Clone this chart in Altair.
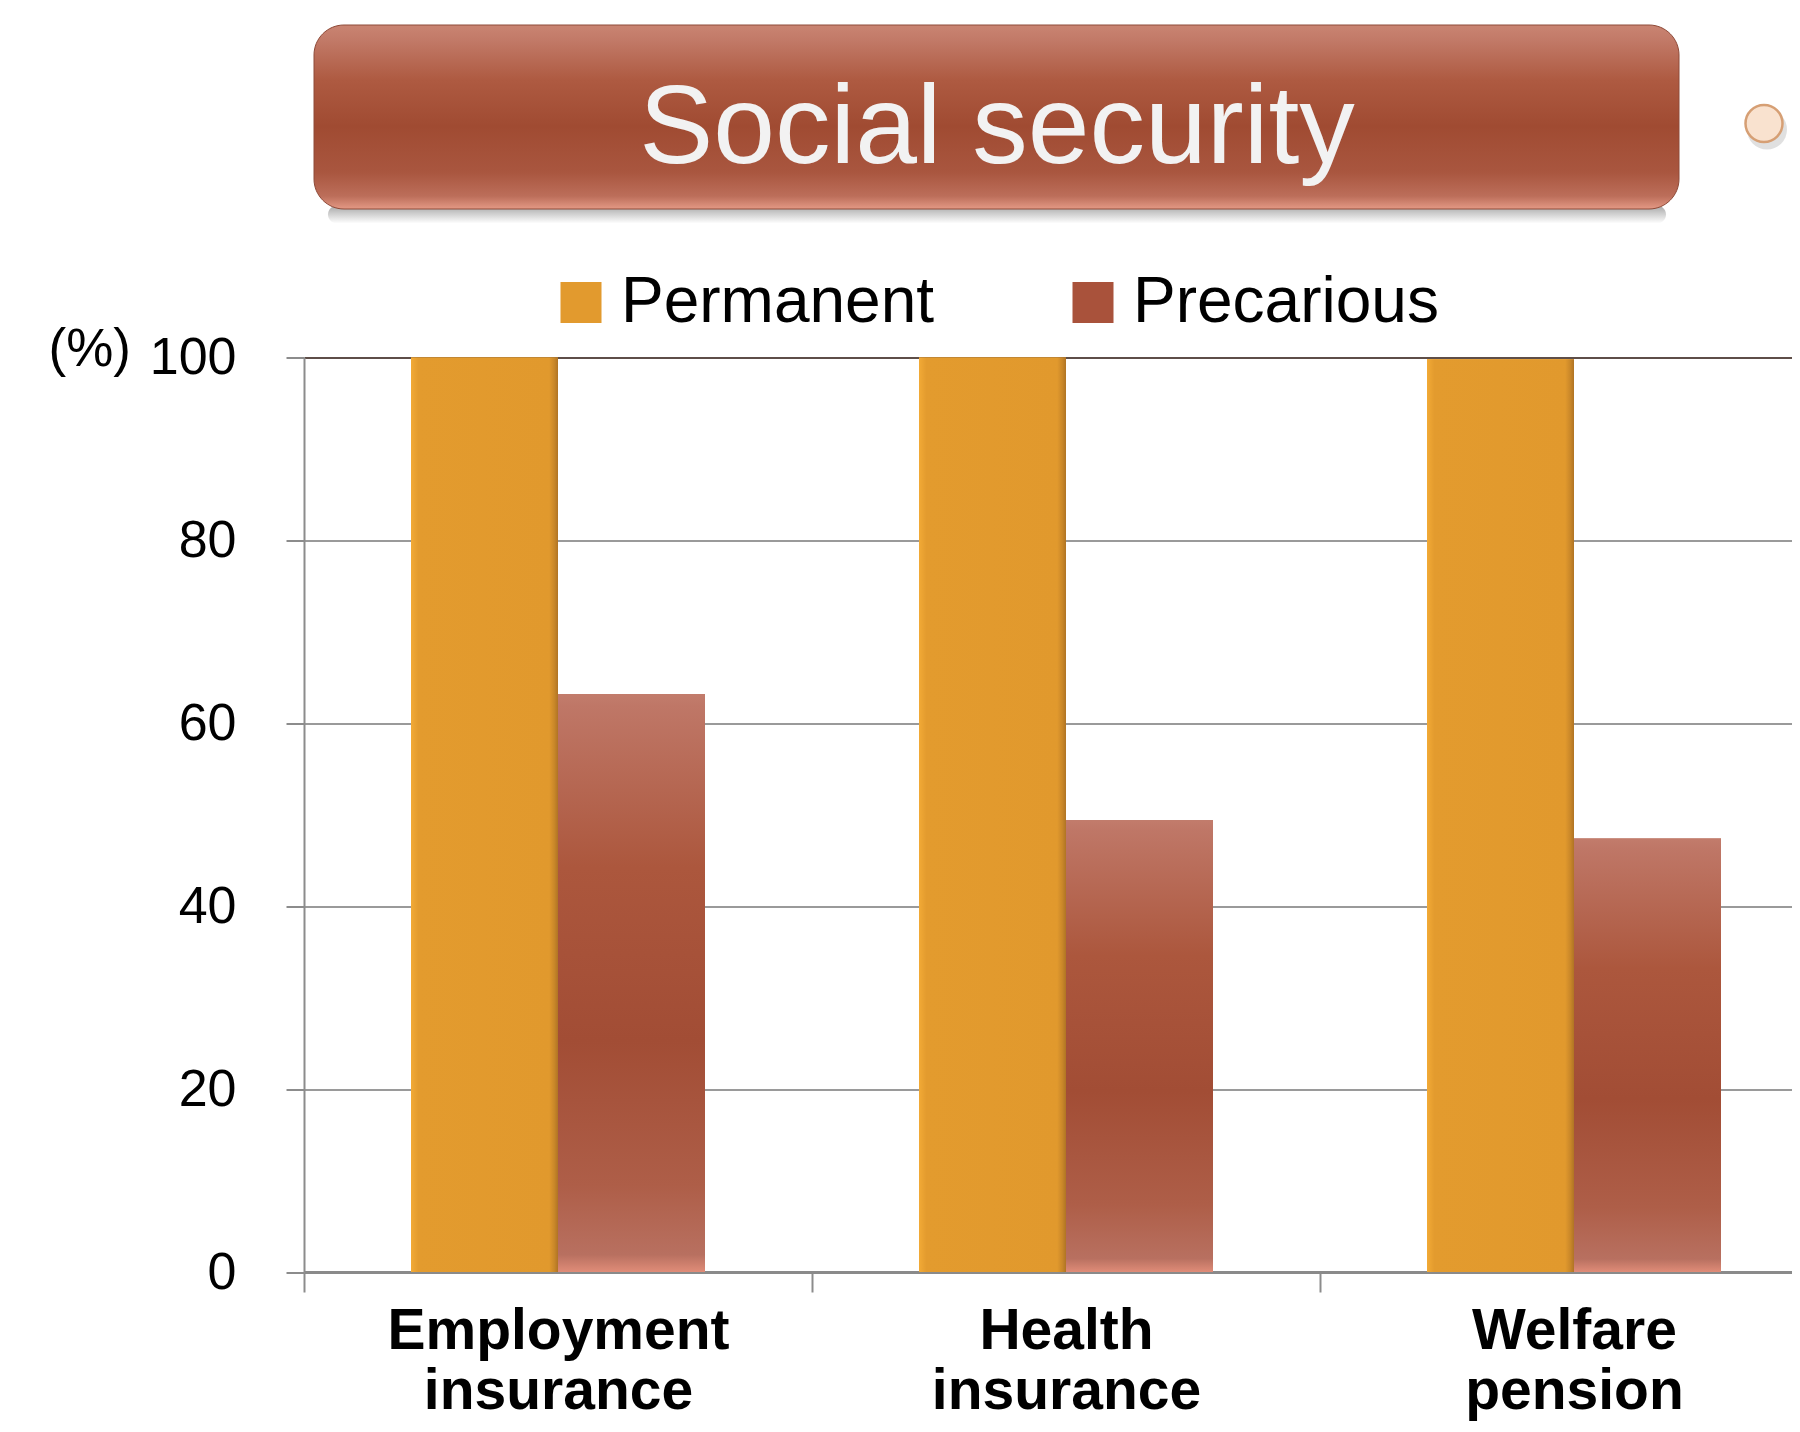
import altair as alt
import pandas as pd

categories = ["Employment insurance", "Health insurance", "Welfare pension"]
series = ["Permanent", "Precarious"]
permanent = [100, 100, 99.8]
precarious = [63.2, 49.4, 47.4]
y_ticks = [0, 20, 40, 60, 80, 100]
title_text = "Social security"
y_unit = "(%)"
series_colors = ["#E29A2E", "#A9523B"]

rows = []
for i, c in enumerate(categories):
    rows.append({"category": c, "series": series[0], "value": permanent[i]})
    rows.append({"category": c, "series": series[1], "value": precarious[i]})
df = pd.DataFrame(rows)

FONT = "Liberation Sans"


def grad(stops, vertical=True):
    return {
        "gradient": "linear",
        "x1": 0, "y1": 0,
        "x2": 0 if vertical else 1,
        "y2": 1 if vertical else 0,
        "stops": [{"offset": o, "color": c} for o, c in stops],
    }


grad_orange = grad([(0, "#F2AA36"), (0.05, "#E39B2E"), (0.94, "#E1992D"),
                    (0.975, "#C98729"), (1, "#B07424")], vertical=False)
grad_red = grad([(0, "#C27C6C"), (0.02, "#BF7767"), (0.3, "#AC573D"),
                 (0.6, "#A24D35"), (0.85, "#AE5E48"), (0.97, "#B87060"),
                 (1, "#E08C78")])
grad_banner = grad([(0, "#C98472"), (0.08, "#C27A68"), (0.3, "#AE5A41"),
                    (0.55, "#A04B32"), (0.8, "#A9563F"), (0.93, "#BC6E5A"),
                    (1, "#E49985")])
grad_shadow = grad([(0, "rgba(0,0,0,0.35)"), (1, "rgba(0,0,0,0)")])

x_enc = alt.X(
    "category:N", sort=categories,
    scale=alt.Scale(range=[0, 1524], paddingInner=0, paddingOuter=0),
    axis=alt.Axis(
        title=None, labelAngle=0, labelExpr="split(datum.label, ' ')",
        labelFontSize=57, labelFontWeight="bold", labelColor="black",
        labelLineHeight=60, labelBaseline="top", labelPadding=11.5,
        labelLimit=1000, tickSize=20, tickColor="#8C8C8C", tickWidth=2,
        tickBand="extent", domainColor="#8A8A8A", domainWidth=3, grid=False,
    ),
)
xoff_enc = alt.XOffset("series:N", sort=series,
                       scale=alt.Scale(domain=series, paddingInner=0, paddingOuter=0.728))
y_enc = alt.Y(
    "value:Q",
    scale=alt.Scale(domain=[0, 100], nice=False),
    axis=alt.Axis(
        values=y_ticks, title=y_unit, titleAngle=0, titleAlign="left",
        titleBaseline="alphabetic", titleX=-256, titleY=7.5, titleFontSize=53,
        titleFontWeight="normal", titleColor="black",
        labelFontSize=52, labelColor="black", labelPadding=50,
        tickSize=18, tickColor="#8C8C8C", tickWidth=2,
        domainColor="#8C8C8C", domainWidth=2,
        gridColor={"condition": {"test": "datum.value === 100", "value": "#5E4E48"},
                   "value": "#9A9A9A"},
        gridWidth=2,
    ),
)

base = alt.Chart(df).encode(x=x_enc, xOffset=xoff_enc, y=y_enc)

bars_legend = base.mark_bar().encode(
    color=alt.Color(
        "series:N", sort=series,
        scale=alt.Scale(domain=series, range=series_colors),
        legend=alt.Legend(
            title=None, orient="none", legendX=245, legendY=-87,
            direction="horizontal", labelFontSize=64, labelColor="black",
            labelLimit=1000, symbolType="square", symbolSize=1681,
            symbolStrokeWidth=0, labelOffset=8, columnPadding=126, padding=0,
        ),
    )
)
bars_perm = base.transform_filter(f"datum.series == '{series[0]}'").mark_bar(color=grad_orange)
bars_prec = base.transform_filter(f"datum.series == '{series[1]}'").mark_bar(color=grad_red)

tdf = pd.DataFrame({"t": [title_text]})
shadow = alt.Chart(tdf).mark_rect(cornerRadius=12, color=grad_shadow).encode(
    x=alt.value(24), x2=alt.value(1362), y=alt.value(-152), y2=alt.value(-134)
)
banner = alt.Chart(tdf).mark_rect(cornerRadius=30, color=grad_banner,
                                  stroke="#8E4A38", strokeWidth=1).encode(
    x=alt.value(10), x2=alt.value(1375), y=alt.value(-332.5), y2=alt.value(-148.5)
)
banner_text = alt.Chart(tdf).mark_text(
    font=FONT, fontSize=111, color="#F2F2F2", baseline="alphabetic", align="center"
).encode(x=alt.value(693), y=alt.value(-194.5), text="t:N")
dot_shadow = alt.Chart(tdf).mark_point(
    shape="circle", filled=True, size=1600, fill="#000000", opacity=0.12, strokeWidth=0
).encode(x=alt.value(1463), y=alt.value(-228))
dot = alt.Chart(tdf).mark_point(
    shape="circle", filled=True, size=1369, fill="#F9E2CF", stroke="#D69F74",
    strokeWidth=2.5, opacity=1
).encode(x=alt.value(1460), y=alt.value(-234))

chart = alt.layer(
    shadow, banner, banner_text, dot_shadow, dot, bars_legend, bars_perm, bars_prec
).properties(
    width=1488, height=914.5,
    padding={"left": 296, "top": 349.5, "right": 0, "bottom": 152},
    autosize=alt.AutoSizeParams(type="none"),
).configure(font=FONT).configure_view(strokeWidth=0)

chart.save("out.html", embed_options={"renderer": "svg", "actions": False})
